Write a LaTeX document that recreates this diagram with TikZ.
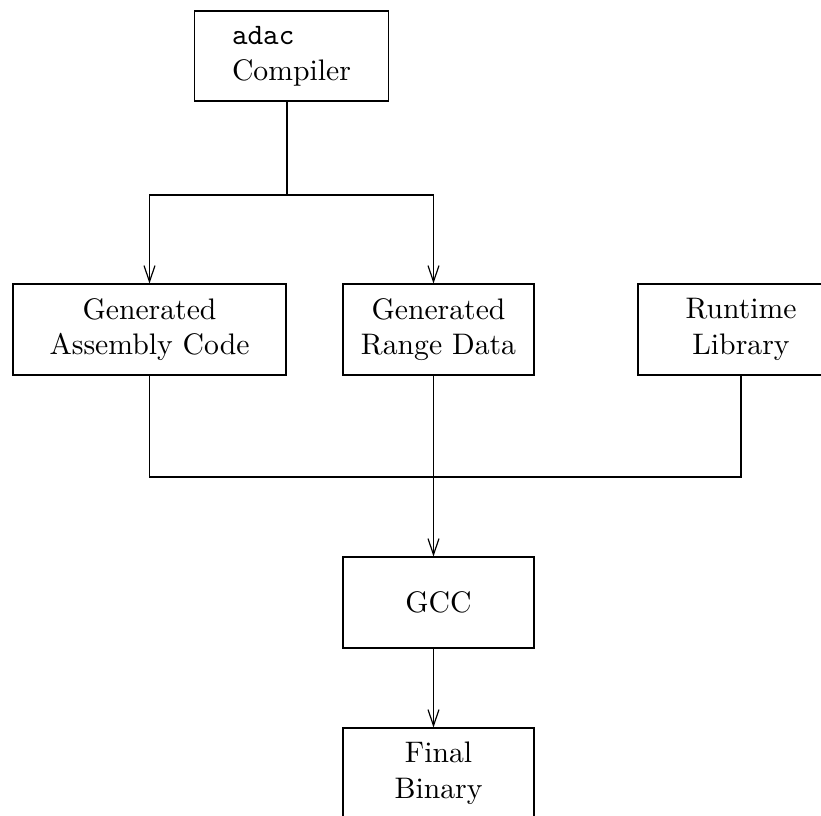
\documentclass[tikz,border=0pt]{standalone}
\usetikzlibrary{arrows.meta}

\begin{document}
\begin{tikzpicture}[x=0.3367pt,y=-0.3367pt,>={Straight Barb[length=5.4pt,width=3.7pt]},
  box/.style={draw,rectangle,minimum height=30.6pt,align=center,font=\normalsize}]

                \clip (0,0) rectangle (821,815);

                \node[box, minimum width=65.3pt, minimum height=30.3pt, align=left] (comp) at (291.5,56) {\texttt{adac}\\Compiler};
                \node[box, minimum width=91.9pt] (asm) at (149.5,329.5) {Generated\\Assembly Code};
                \node[box, minimum width=64.3pt] (rng) at (438.5,329.5) {Generated\\Range Data};
                \node[box, minimum width=69.4pt] (rt) at (741,329.5) {Runtime\\Library};
                \node[box, minimum width=64.3pt] (gcc) at (438.5,602.5) {GCC};
                \node[box, minimum width=64.3pt] (fin) at (438.5,773.5) {Final\\Binary};

                \coordinate (split) at (287,195);
                \coordinate (join) at (433.5,477);

                \draw[-] (comp.south -| split) to (split);
                \draw[->] (split) -| (asm.north);
                \draw[->] (split) -| (rng.north -| join);
                \draw[-] (asm.south) |- (join);
                \draw[-] (rt.south) |- (join);
                \draw[->] (rng.south -| join) to (gcc.north -| join);
                \draw[->] (gcc.south -| join) to (fin.north -| join);

            \end{tikzpicture}
\end{document}
